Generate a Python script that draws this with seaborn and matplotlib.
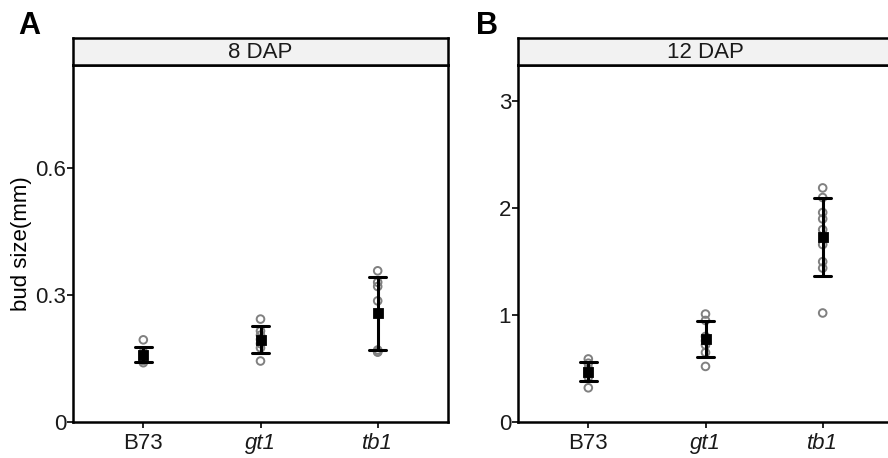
import pandas as pd
import matplotlib
matplotlib.use("Agg")
import matplotlib.pyplot as plt
import seaborn as sns

GENOTYPES = ["B73", "gt1", "tb1"]

# bud size (mm)
DAP8_B73 = [0.194, 0.165, 0.160, 0.155, 0.150, 0.145, 0.140]
DAP8_GT1 = [0.243, 0.215, 0.205, 0.195, 0.185, 0.175, 0.144]
DAP8_TB1 = [0.357, 0.330, 0.320, 0.286, 0.170, 0.166, 0.165]

DAP12_B73 = [0.59, 0.55, 0.50, 0.47, 0.45, 0.42, 0.32]
DAP12_GT1 = [1.01, 0.95, 0.80, 0.76, 0.72, 0.65, 0.52]
DAP12_TB1 = [2.19, 2.10, 1.96, 1.90, 1.80, 1.66, 1.50, 1.44, 1.02]

YTICKS_8 = [0, 0.3, 0.6]
YTICKS_12 = [0, 1, 2, 3]


def make_df(b73, gt1, tb1):
    rows = []
    for g, vals in zip(GENOTYPES, [b73, gt1, tb1]):
        for v in vals:
            rows.append({"genotype": g, "size": v})
    return pd.DataFrame(rows)


df8 = make_df(DAP8_B73, DAP8_GT1, DAP8_TB1)
df12 = make_df(DAP12_B73, DAP12_GT1, DAP12_TB1)

sns.set_theme(style="white")
plt.rcParams["font.family"] = ["Liberation Sans", "DejaVu Sans"]

fig = plt.figure(figsize=(8.88, 4.58), dpi=100)

W, H = 888.0, 458.0
bottom = 1 - 422 / H
height = (422 - 65) / H
strip_h = 27 / H
width = 375 / W
FS = 16


def draw_panel(left, df, ymax, yticks, title, letter, letter_x, ylabel):
    ax = fig.add_axes([left, bottom, width, height])
    sns.stripplot(data=df, x="genotype", y="size", order=GENOTYPES, jitter=False,
                  color="#808080", size=5.5, linewidth=1.4, ax=ax, zorder=2)
    for c in ax.collections:
        c.set_facecolor("none")
        c.set_edgecolor("#808080")
    sns.pointplot(data=df, x="genotype", y="size", order=GENOTYPES, errorbar="sd",
                  capsize=0.15, color="black", marker="s", markersize=5.5,
                  linestyle="none", err_kws={"linewidth": 2.2}, ax=ax, zorder=3)
    ax.set_xlim(-0.6, 2.6)
    ax.set_ylim(0, ymax)
    ax.set_yticks(yticks)
    ax.set_yticklabels([f"{t:g}" for t in yticks])
    ax.set_xlabel("")
    ax.set_ylabel(ylabel, fontsize=FS, color="black", labelpad=2)
    for s in ax.spines.values():
        s.set_color("black")
        s.set_linewidth(1.8)
    ax.tick_params(axis="both", which="both", length=4, width=1.2, color="black",
                   labelsize=FS, labelcolor="#1a1a1a", left=True, bottom=True)
    ax.tick_params(axis="y", pad=1)
    ax.tick_params(axis="x", pad=4)
    for lab in ax.get_xticklabels():
        if lab.get_text() != "B73":
            lab.set_style("italic")

    sax = fig.add_axes([left, bottom + height, width, strip_h])
    sax.set_facecolor("#F2F2F2")
    sax.set_xticks([])
    sax.set_yticks([])
    for s in sax.spines.values():
        s.set_color("black")
        s.set_linewidth(1.8)
    sax.text(0.5, 0.47, title, ha="center", va="center", fontsize=FS,
             color="#1a1a1a", transform=sax.transAxes)

    fig.text(letter_x / W, 1 - 26 / H, letter, ha="center", va="center",
             fontsize=22, fontweight="bold", color="black")
    return ax


draw_panel(73 / W, df8, 0.843, YTICKS_8, "8 DAP", "A", 29, "bud size(mm)")
draw_panel(518 / W, df12, 3.34, YTICKS_12, "12 DAP", "B", 487, "")

fig.savefig("out.png", dpi=100)
